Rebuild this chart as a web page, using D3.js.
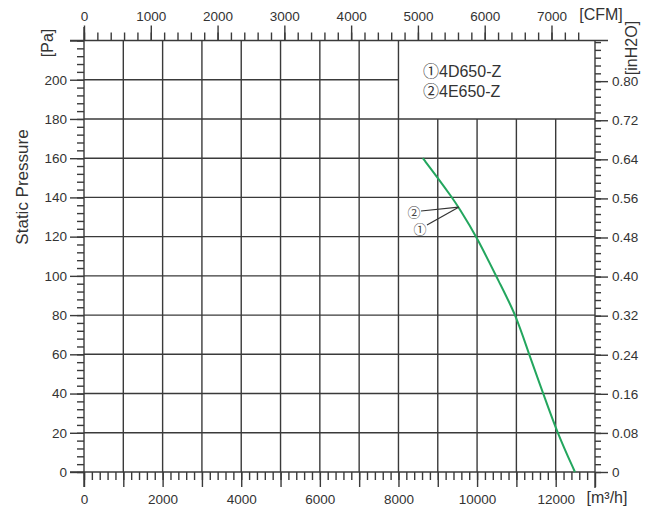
<html>
	<head>
		<script src="https://cdnjs.cloudflare.com/ajax/libs/d3/7.8.5/d3.min.js"></script>
		<style>
            body {
                margin: 0;
                background: #fff;
            }

            svg {
                font-family: "Liberation Sans", Arial, sans-serif;
            }

            .tick text {
                fill: #333;
                font-size: 13.5px;
            }

            .tick line, .frame, .grid {
                stroke: #3a3a3a;
                stroke-width: 1.4;
            }

            .unit {
                fill: #333;
                font-size: 16px;
            }

            .circled {
                font-family: "Noto Sans CJK SC", sans-serif;
            }

            .legend {
                font-family: "Liberation Sans", "Noto Sans CJK SC", sans-serif;
            }
		</style>
	</head>
	<body>
		<script type='text/javascript'>
            // fan curve (m3/h vs Pa)
            var flow = [8620, 9000, 9360, 9530, 9990, 10580, 10990, 11320, 11685, 12040, 12490];
            var pressure = [160, 150, 140, 135, 120, 96, 80, 60, 40, 20, 0];

            var flowLabels = [0, 2000, 4000, 6000, 8000, 10000, 12000];
            var pressureLabels = [0, 20, 40, 60, 80, 100, 120, 140, 160, 180, 200];
            var cfmLabels = [0, 1000, 2000, 3000, 4000, 5000, 6000, 7000];
            var inchLabels = [0, 0.08, 0.16, 0.24, 0.32, 0.40, 0.48, 0.56, 0.64, 0.72, 0.80];

            var legendLabels = ["\u24604D650-Z", "\u24614E650-Z"];

            // where the two model pointers meet the curve
            var pointerFlow = 9530;
            var pointerPressure = 135;

            var flowMax = 13000;
            var pressureMax = 220;
            var M3H_PER_CFM = 1.699;
            var PA_PER_INCH = 249.09;

            var svg = d3.select("body")
                .append("svg")
                .attr("width", 651)
                .attr("height", 508);

            var x = d3.scaleLinear().domain([0, flowMax]).range([84, 595]);
            var y = d3.scaleLinear().domain([0, pressureMax]).range([472, 40.5]);
            var xCfm = d3.scaleLinear().domain([0, flowMax / M3H_PER_CFM]).range([84, 595]);
            var yInch = d3.scaleLinear().domain([0, pressureMax / PA_PER_INCH]).range([472, 40.5]);

            // grid: the box above 180 Pa right of 8000 m3/h is left open for the legend
            var grid = svg.append("g");
            d3.range(1000, flowMax, 1000).forEach(function (v) {
                grid.append("line")
                    .attr("class", "grid")
                    .attr("x1", x(v)).attr("x2", x(v))
                    .attr("y1", v > 8000 ? y(180) : y(pressureMax))
                    .attr("y2", y(0));
            });
            pressureLabels.filter(v => v > 0).forEach(function (v) {
                grid.append("line")
                    .attr("class", "grid")
                    .attr("x1", x(0))
                    .attr("x2", v > 180 ? x(8000) : x(flowMax))
                    .attr("y1", y(v)).attr("y2", y(v));
            });

            function noDomain(g) {
                g.select(".domain").remove();
            }

            // bottom axis (m3/h)
            svg.append("g")
                .attr("transform", "translate(0," + y(0) + ")")
                .call(d3.axisBottom(x).tickValues(d3.range(0, flowMax, 200)).tickSize(8).tickFormat(""))
                .call(noDomain);
            svg.append("g")
                .attr("transform", "translate(0," + y(0) + ")")
                .call(d3.axisBottom(x).tickValues(d3.range(0, flowMax + 1, 1000)).tickSize(15).tickPadding(7)
                    .tickFormat(d => flowLabels.indexOf(d) >= 0 ? d : ""))
                .call(noDomain);

            // top axis (CFM)
            svg.append("g")
                .attr("transform", "translate(0," + y(pressureMax) + ")")
                .call(d3.axisTop(xCfm).tickValues(d3.range(0, 7401, 200)).tickSize(8).tickFormat(""))
                .call(noDomain);
            svg.append("g")
                .attr("transform", "translate(0," + y(pressureMax) + ")")
                .call(d3.axisTop(xCfm).tickValues(cfmLabels).tickSize(15).tickPadding(5).tickFormat(d3.format("d")))
                .call(noDomain);

            // left axis (Pa)
            svg.append("g")
                .attr("transform", "translate(" + x(0) + ",0)")
                .call(d3.axisLeft(y).tickValues(d3.range(0, pressureMax + 1, 4)).tickSize(7).tickFormat(""))
                .call(noDomain);
            svg.append("g")
                .attr("transform", "translate(" + x(0) + ",0)")
                .call(d3.axisLeft(y).tickValues(pressureLabels.concat([pressureMax])).tickSize(14).tickPadding(3)
                    .tickFormat(d => pressureLabels.indexOf(d) >= 0 ? d : ""))
                .call(noDomain);

            // right axis (inH2O)
            svg.append("g")
                .attr("transform", "translate(" + x(flowMax) + ",0)")
                .call(d3.axisRight(yInch).tickValues(d3.range(0, 0.881, 0.016)).tickSize(6).tickFormat(""))
                .call(noDomain);
            svg.append("g")
                .attr("transform", "translate(" + x(flowMax) + ",0)")
                .call(d3.axisRight(yInch).tickValues(inchLabels).tickSize(13).tickPadding(4)
                    .tickFormat(d => d === 0 ? "0" : d3.format(".2f")(d)))
                .call(noDomain);

            // frame lines, running a little past the corners
            var frame = svg.append("g");
            frame.append("line").attr("class", "frame")
                .attr("x1", x(0)).attr("x2", x(0)).attr("y1", 27).attr("y2", 487);
            frame.append("line").attr("class", "frame")
                .attr("x1", x(flowMax)).attr("x2", x(flowMax)).attr("y1", y(pressureMax)).attr("y2", 488);
            frame.append("line").attr("class", "frame")
                .attr("x1", 70).attr("x2", 608).attr("y1", y(pressureMax)).attr("y2", y(pressureMax));
            frame.append("line").attr("class", "frame")
                .attr("x1", 70).attr("x2", x(flowMax)).attr("y1", y(0)).attr("y2", y(0));

            // curve
            var pts = flow.map((f, i) => [f, pressure[i]]);
            svg.append("path")
                .datum(pts)
                .attr("fill", "none")
                .attr("stroke", "#23a65e")
                .attr("stroke-width", 2)
                .attr("d", d3.line().x(d => x(d[0])).y(d => y(d[1])).curve(d3.curveBasis));

            // pointers to the curve
            var px = x(pointerFlow), py = y(pointerPressure);
            svg.append("line").attr("x1", 421).attr("y1", 211).attr("x2", px).attr("y2", py)
                .attr("stroke", "#333").attr("stroke-width", 1.2);
            svg.append("line").attr("x1", 427).attr("y1", 225).attr("x2", px).attr("y2", py)
                .attr("stroke", "#333").attr("stroke-width", 1.2);
            svg.append("text").attr("class", "circled")
                .attr("x", 414).attr("y", 216.5).attr("text-anchor", "middle")
                .attr("font-size", 13).attr("fill", "#444").text("\u2461");
            svg.append("text").attr("class", "circled")
                .attr("x", 420).attr("y", 233.5).attr("text-anchor", "middle")
                .attr("font-size", 13).attr("fill", "#444").text("\u2460");

            // legend
            legendLabels.forEach(function (t, i) {
                svg.append("text")
                    .attr("class", "legend")
                    .attr("x", 423)
                    .attr("y", 77 + i * 19.5)
                    .attr("font-size", 16)
                    .attr("fill", "#333")
                    .text(t);
            });

            // axis titles and units
            svg.append("text").attr("class", "unit")
                .attr("x", 601).attr("y", 20).attr("text-anchor", "middle").text("[CFM]");
            svg.append("text").attr("class", "unit")
                .attr("x", 607).attr("y", 503).attr("text-anchor", "middle").text("[m\u00b3/h]");
            svg.append("text").attr("class", "unit")
                .attr("font-size", 15)
                .attr("transform", "translate(53,43) rotate(-90)")
                .attr("text-anchor", "middle").text("[Pa]");
            svg.append("text").attr("class", "unit")
                .attr("font-size", 14)
                .attr("transform", "translate(637,48) rotate(-90)")
                .attr("text-anchor", "middle").text("[inH2O]");
            svg.append("text")
                .attr("transform", "translate(28,187) rotate(-90)")
                .attr("text-anchor", "middle")
                .attr("font-size", 17)
                .attr("fill", "#333")
                .text("Static Pressure");
		</script>
	</body>
</html>
